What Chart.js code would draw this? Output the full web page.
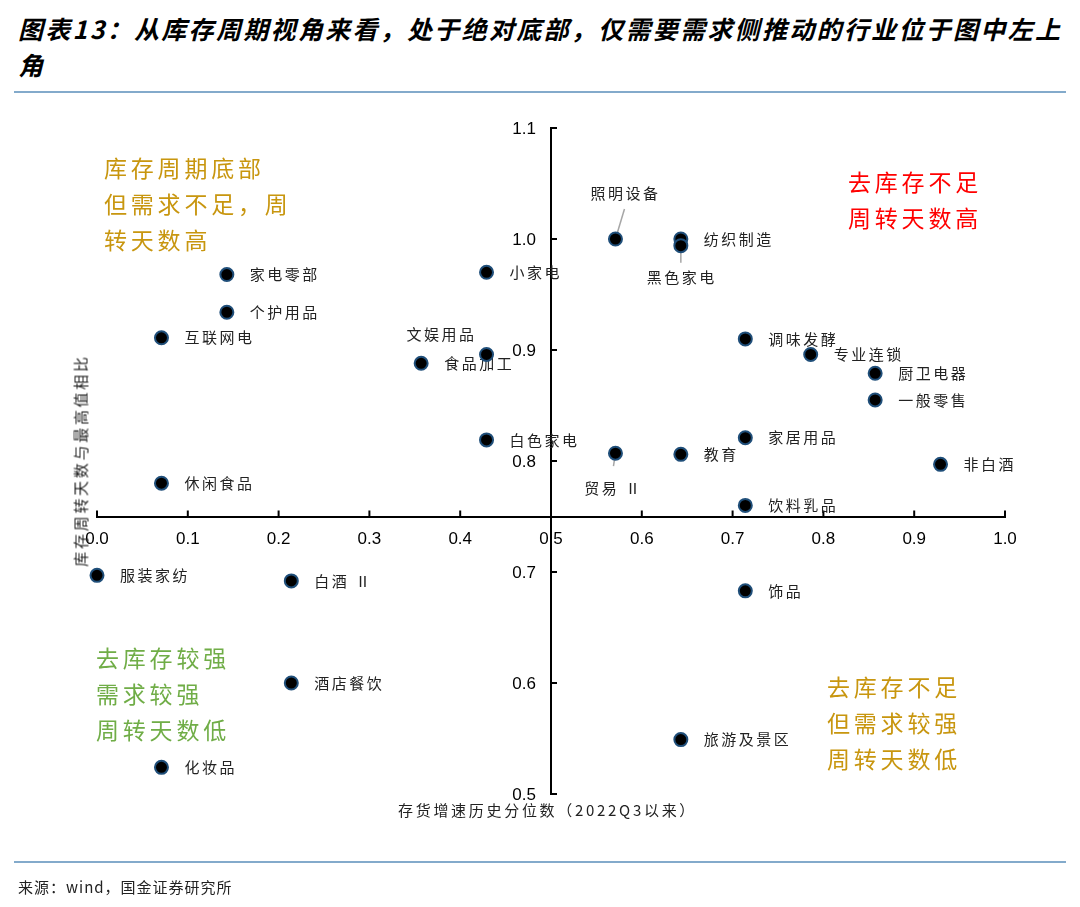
<!DOCTYPE html>
<html>
<head>
<meta charset="utf-8">
<script src="https://cdn.jsdelivr.net/npm/chart.js@4.4.0/dist/chart.umd.min.js"></script>
<style>
  body { margin: 0; background: #fff; }
  #page { position: relative; width: 1080px; height: 907px; overflow: hidden; font-family: "Noto Sans CJK SC", sans-serif; }
  #chartBox { position: absolute; left: 0; top: 0; width: 1080px; height: 907px; }
  .t { position: absolute; white-space: nowrap; }
  .title { left: 18px; top: 10px; font-size: 25px; line-height: 36px; font-weight: bold; font-style: italic; letter-spacing: 2.3px; color: #000; }
  .rule { position: absolute; left: 14px; width: 1052px; height: 2px; background: #83aacb; }
  .quad { font-size: 23px; line-height: 36px; letter-spacing: 3.8px; }
  .axisT { font-size: 15px; letter-spacing: 2.7px; color: #222; }
</style>
</head>
<body>
<div id="page">
  <div class="t title">图表13：从库存周期视角来看，处于绝对底部，仅需要需求侧推动的行业位于图中左上<br>角</div>
  <div class="rule" style="top:91px"></div>
  <div id="chartBox"><canvas id="scatter"></canvas></div>

  <div class="t quad" style="left:104px; top:149px; color:#c8960f">库存周期底部<br>但需求不足，周<br>转天数高</div>
  <div class="t quad" style="left:848px; top:163px; color:#ff0000">去库存不足<br>周转天数高</div>
  <div class="t quad" style="left:96px; top:639px; color:#70ad47">去库存较强<br>需求较强<br>周转天数低</div>
  <div class="t quad" style="left:827px; top:668px; color:#c8960f">去库存不足<br>但需求较强<br>周转天数低</div>

  <div class="t axisT" style="left:-30px; top:450px; width:220px; text-align:center; transform:rotate(-90deg);">库存周转天数与最高值相比</div>
  <div class="t axisT" style="left:398px; top:799px;">存货增速历史分位数（2022Q3以来）</div>

  <div class="rule" style="top:861px"></div>
  <div class="t" style="left:18px; top:876px; font-size:15px; color:#222; letter-spacing:1px;">来源：wind，国金证券研究所</div>
</div>

<script>
// 行业名称与坐标（x: 存货增速历史分位数, y: 库存周转天数与最高值相比）
const industries = ['照明设备', '纺织制造', '黑色家电', '小家电', '家电零部', '个护用品', '互联网电',
  '调味发酵', '专业连锁', '文娱用品', '食品加工', '厨卫电器', '一般零售', '白色家电', '家居用品',
  '贸易 Ⅱ', '教育', '非白酒', '休闲食品', '饮料乳品', '服装家纺', '白酒 Ⅱ', '饰品', '酒店餐饮',
  '旅游及景区', '化妆品'];
const xValues = [0.571, 0.643, 0.643, 0.429, 0.143, 0.143, 0.071,
  0.714, 0.786, 0.429, 0.357, 0.857, 0.857, 0.429, 0.714,
  0.571, 0.643, 0.929, 0.071, 0.714, 0.000, 0.214, 0.714, 0.214,
  0.643, 0.071];
const yValues = [1.000, 1.000, 0.994, 0.970, 0.968, 0.934, 0.911,
  0.910, 0.896, 0.896, 0.888, 0.879, 0.855, 0.819, 0.821,
  0.807, 0.806, 0.797, 0.780, 0.760, 0.697, 0.692, 0.683, 0.600,
  0.549, 0.524];

// 坐标轴交叉位置
const xCross = 0.5;
const yCross = 0.75;

// 个别标签的摆放（默认在点右侧）
const labelPlace = {
  '照明设备': { dx: 10, dy: -46, align: 'center', line: [[0, 0], [9, -30]] },
  '黑色家电': { dx: 1, dy: 32, align: 'center', line: [[0, 0], [0, 17]] },
  '贸易 Ⅱ': { dx: -2, dy: 35, align: 'center', line: [[0, 0], [-2, 13]] },
  '文娱用品': { dx: -45, dy: -20, align: 'center' }
};

const fmt = v => v.toFixed(1);

const axisDecor = {
  id: 'axisDecor',
  beforeDatasetsDraw(chart) {
    const { ctx, scales: { x, y } } = chart;
    const ax = x.getPixelForValue(xCross);
    const ay = y.getPixelForValue(yCross);
    ctx.save();
    ctx.strokeStyle = '#000';
    ctx.lineWidth = 2;
    x.ticks.forEach(t => {
      const px = x.getPixelForValue(t.value);
      ctx.beginPath(); ctx.moveTo(px, ay); ctx.lineTo(px, ay - 6); ctx.stroke();
    });
    // y 轴刻度和刻度标签（放在轴线左侧）
    ctx.fillStyle = '#000';
    ctx.font = '17px "Liberation Sans", Arial, sans-serif';
    ctx.textAlign = 'right';
    ctx.textBaseline = 'middle';
    y.ticks.forEach(t => {
      const py = y.getPixelForValue(t.value);
      ctx.beginPath(); ctx.moveTo(ax, py); ctx.lineTo(ax + 6, py); ctx.stroke();
      ctx.fillText(fmt(t.value), ax - 15, py + 1);
    });

    // 数据标签
    const meta = chart.getDatasetMeta(0);
    ctx.font = '15px "Noto Sans CJK SC"';
    ctx.letterSpacing = '2.5px';
    ctx.fillStyle = '#222';
    meta.data.forEach((pt, i) => {
      const name = industries[i];
      const p = labelPlace[name] || { dx: 23, dy: 0, align: 'left' };
      if (p.line) {
        ctx.strokeStyle = '#a6a6a6';
        ctx.lineWidth = 1.5;
        ctx.beginPath();
        ctx.moveTo(pt.x + p.line[0][0], pt.y + p.line[0][1]);
        ctx.lineTo(pt.x + p.line[1][0], pt.y + p.line[1][1]);
        ctx.stroke();
      }
      ctx.textAlign = p.align;
      ctx.fillText(name, pt.x + p.dx, pt.y + p.dy);
    });
    ctx.restore();
  }
};

new Chart(document.getElementById('scatter'), {
  type: 'scatter',
  data: {
    datasets: [{
      data: industries.map((n, i) => ({ x: xValues[i], y: yValues[i] })),
      backgroundColor: '#000',
      borderColor: '#1f4e79',
      borderWidth: 2,
      pointRadius: 6.5,
      pointHoverRadius: 6.5,
      clip: false
    }]
  },
  options: {
    responsive: true,
    maintainAspectRatio: false,
    animation: false,
    events: [],
    layout: { padding: { left: 97, right: 75, top: 128, bottom: 113 } },
    plugins: { legend: { display: false }, tooltip: { enabled: false } },
    scales: {
      x: {
        type: 'linear',
        min: 0, max: 1,
        position: { y: yCross },
        grid: { display: false, drawTicks: false },
        border: { color: '#000', width: 2 },
        ticks: {
          stepSize: 0.1, padding: 13, color: '#000',
          font: { family: '"Liberation Sans", Arial, sans-serif', size: 17 },
          callback: fmt
        }
      },
      y: {
        type: 'linear',
        min: 0.5, max: 1.1,
        position: { x: xCross },
        grid: { display: false, drawTicks: false },
        border: { color: '#000', width: 2 },
        ticks: { stepSize: 0.1, display: false }
      }
    }
  },
  plugins: [axisDecor]
});
</script>
</body>
</html>
